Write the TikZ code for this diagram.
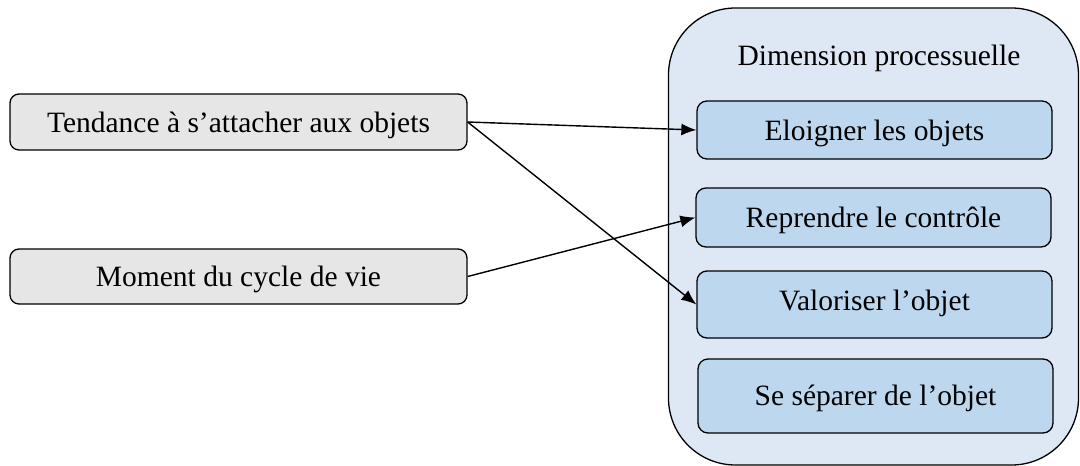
\documentclass[tikz,border=0pt]{standalone}
\usepackage{fontspec}
\setmainfont{Liberation Serif}
\usetikzlibrary{arrows.meta}
\definecolor{graybox}{HTML}{E6E6E6}
\definecolor{contfill}{HTML}{DEE8F5}
\definecolor{innerfill}{HTML}{BDD7EE}
\tikzset{
  txt/.style={font=\fontsize{29.5}{34}\selectfont},
  boxtext/.style={txt, text height=27pt, text depth=7pt},
  leftbox/.style={draw=black, line width=1.3pt, fill=graybox, rounded corners=9pt, minimum width=457pt, minimum height=56pt, inner sep=0pt, boxtext},
  innerbox/.style={draw=black, line width=1.3pt, fill=innerfill, rounded corners=10pt, minimum width=355pt, inner sep=0pt, boxtext},
  container/.style={draw=black, line width=1.3pt, fill=contfill, rounded corners=67pt, minimum width=410pt, minimum height=457pt, inner sep=0pt},
  conn/.style={line width=1.4pt, -{Latex[length=15pt,width=12pt]}}
}
\begin{document}
\begin{tikzpicture}[x=1pt,y=-1pt]
\useasboundingbox (0,0) rectangle (1080,466);
\node[container] (cont) at (873.5,236.5) {};
\node[txt, anchor=base] (title) at (879,65) {Dimension processuelle};
\node[innerbox, minimum height=58pt] (e1) at (874.5,130) {Eloigner les objets};
\node[innerbox, minimum height=59pt] (r2) at (873.5,217.5) {Reprendre le contrôle};
\node[innerbox, minimum height=67pt, text height=20pt, text depth=9pt] (v3) at (874.5,304.5) {Valoriser l’objet};
\node[innerbox, minimum height=74pt, text height=26pt, text depth=8pt] (s4) at (875.5,396) {Se séparer de l’objet};
\node[leftbox] (b1) at (238.5,122) {Tendance à s’attacher aux objets};
\node[leftbox, minimum height=55pt] (b2) at (238.5,276.5) {Moment du cycle de vie};
\draw[conn] (b1.east) -- (e1.west);
\draw[conn] (b1.east) -- (v3.west);
\draw[conn] (b2.east) -- (r2.west);
\end{tikzpicture}
\end{document}
